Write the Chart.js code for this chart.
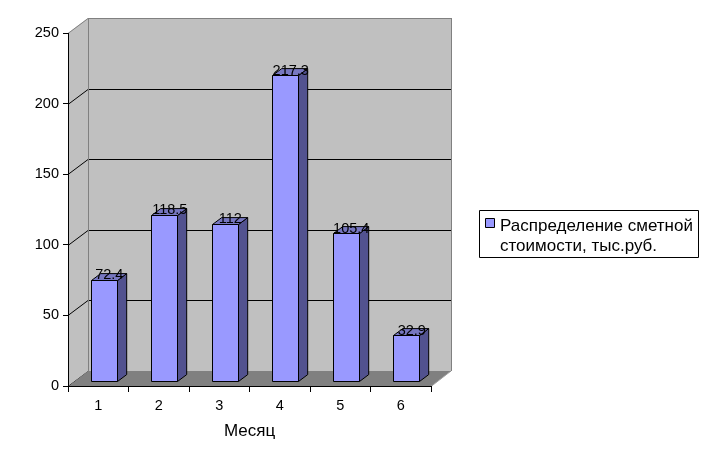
<!DOCTYPE html>
<html><head><meta charset="utf-8">
<script src="https://cdn.jsdelivr.net/npm/chart.js@4"></script>
<style>html,body{margin:0;padding:0;background:#fff}#w{width:707px;height:469px}</style>
</head><body><div id="w"><canvas id="c"></canvas></div>
<script>
const months = ['1','2','3','4','5','6'];
const costValues = [72.4, 118.5, 112, 217.3, 105.4, 32.9];
const valueLabels = ['72.4','118.5','112','217.3','105.4','32.9'];
const seriesName = ['Распределение сметной', 'стоимости, тыс.руб.'];
const axisTitle = 'Месяц';

const DX = 20, DY = 15;       // wall depth
const F0 = 0.27, F1 = 0.73;   // bar depth range
const FONT = '"Liberation Sans", Arial, sans-serif';

const walls = {
  id: 'walls',
  beforeDraw(chart) {
    const ctx = chart.ctx, a = chart.chartArea, ys = chart.scales.y;
    const L = a.left, R = a.right, T = a.top, B = a.bottom;
    ctx.save();
    ctx.fillStyle = '#c0c0c0';
    ctx.beginPath();
    ctx.moveTo(L, B); ctx.lineTo(L, T); ctx.lineTo(L + DX, T - DY); ctx.lineTo(L + DX, B - DY); ctx.closePath();
    ctx.fill();
    ctx.fillRect(L + DX, T - DY, R - L, B - T);
    ctx.lineWidth = 1;
    ys.ticks.forEach(t => {
      const y = Math.round(ys.getPixelForValue(t.value)) + 0.5;
      ctx.strokeStyle = t.value === ys.max ? '#808080' : '#000';
      ctx.beginPath();
      ctx.moveTo(L, y); ctx.lineTo(L + DX, y - DY); ctx.lineTo(R + DX, y - DY);
      ctx.stroke();
    });
    ctx.strokeStyle = '#808080';
    ctx.beginPath();
    ctx.moveTo(L + DX + 0.5, T - DY); ctx.lineTo(L + DX + 0.5, B - DY);
    ctx.moveTo(R + DX + 0.5, T - DY); ctx.lineTo(R + DX + 0.5, B - DY);
    ctx.stroke();
    ctx.fillStyle = '#808080';
    ctx.beginPath();
    ctx.moveTo(L, B + 0.5); ctx.lineTo(R, B + 0.5); ctx.lineTo(R + DX, B - DY); ctx.lineTo(L + DX, B - DY); ctx.closePath();
    ctx.fill();
    ctx.strokeStyle = '#a0a0a0';
    ctx.beginPath(); ctx.moveTo(R, B + 0.5); ctx.lineTo(R + DX, B - DY); ctx.stroke();
    ctx.restore();
  },
  afterDatasetsDraw(chart) {
    const ctx = chart.ctx;
    const meta = chart.getDatasetMeta(0);
    const sx = DX * F0, sy = DY * F0;
    const bdx = DX * (F1 - F0), bdy = DY * (F1 - F0);
    ctx.save();
    ctx.lineWidth = 1;
    ctx.strokeStyle = '#000';
    ctx.lineJoin = 'round';
    meta.data.forEach((el, i) => {
      const w = el.width;
      const x0 = Math.round(el.x - w / 2 + sx) + 0.5, x1 = Math.round(el.x + w / 2 + sx) + 0.5;
      const yb = Math.round(el.base - sy) + 0.5, yt = Math.round(el.y - sy) + 0.5;
      ctx.fillStyle = '#52528f';
      ctx.beginPath();
      ctx.moveTo(x1, yb); ctx.lineTo(x1, yt); ctx.lineTo(x1 + bdx, yt - bdy); ctx.lineTo(x1 + bdx, yb - bdy); ctx.closePath();
      ctx.fill(); ctx.stroke();
      ctx.fillStyle = '#7777c0';
      ctx.beginPath();
      ctx.moveTo(x0, yt); ctx.lineTo(x1, yt); ctx.lineTo(x1 + bdx, yt - bdy); ctx.lineTo(x0 + bdx, yt - bdy); ctx.closePath();
      ctx.fill(); ctx.stroke();
      ctx.fillStyle = '#9999ff';
      ctx.beginPath();
      ctx.rect(x0, yt, x1 - x0, yb - yt);
      ctx.fill(); ctx.stroke();
    });
    ctx.fillStyle = '#000';
    ctx.font = '14.5px ' + FONT;
    ctx.textAlign = 'center';
    ctx.textBaseline = 'middle';
    meta.data.forEach((el, i) => {
      ctx.fillText(valueLabels[i], el.x + sx + bdx / 2 + 1, el.y - sy - bdy / 2 - 1);
    });
    ctx.strokeStyle = '#000';
    ctx.strokeRect(479.5, 210.5, 219, 47);
    ctx.fillStyle = '#9999ff';
    ctx.fillRect(485.5, 218.5, 9, 9);
    ctx.strokeRect(485.5, 218.5, 9, 9);
    ctx.fillStyle = '#000';
    ctx.font = '17px ' + FONT;
    ctx.textAlign = 'left';
    ctx.fillText(seriesName[0], 500, 226);
    ctx.fillText(seriesName[1], 500, 246);
    ctx.restore();
  }
};

new Chart(document.getElementById('c'), {
  type: 'bar',
  data: {
    labels: months,
    datasets: [{
      label: seriesName.join(' '),
      data: costValues,
      backgroundColor: 'rgba(0,0,0,0)',
      borderWidth: 0,
      categoryPercentage: 1,
      barPercentage: 0.43
    }]
  },
  options: {
    responsive: true,
    maintainAspectRatio: false,
    animation: false,
    events: [],
    layout: { padding: { top: 33, right: 276, left: 0, bottom: 0 } },
    plugins: { legend: { display: false }, tooltip: { enabled: false } },
    scales: {
      x: {
        grid: { display: true, drawOnChartArea: false, drawTicks: true, tickLength: 6, offset: true, color: '#000' },
        border: { display: true, color: '#000', width: 1 },
        ticks: { color: '#000', font: { family: FONT, size: 14.5 }, padding: 5, maxRotation: 0 },
        title: { display: true, text: axisTitle, color: '#000', font: { family: FONT, size: 17 }, padding: { top: 0, bottom: 27 } },
        afterFit(s) { s.height = 83; }
      },
      y: {
        min: 0, max: 250,
        grid: { display: true, drawOnChartArea: false, drawTicks: true, tickLength: 5, color: '#000' },
        border: { display: true, color: '#000', width: 1 },
        ticks: { stepSize: 50, color: '#000', font: { family: FONT, size: 14.5 }, padding: 4 },
        afterFit(s) { s.width = 68; }
      }
    }
  },
  plugins: [walls]
});
</script></body></html>
